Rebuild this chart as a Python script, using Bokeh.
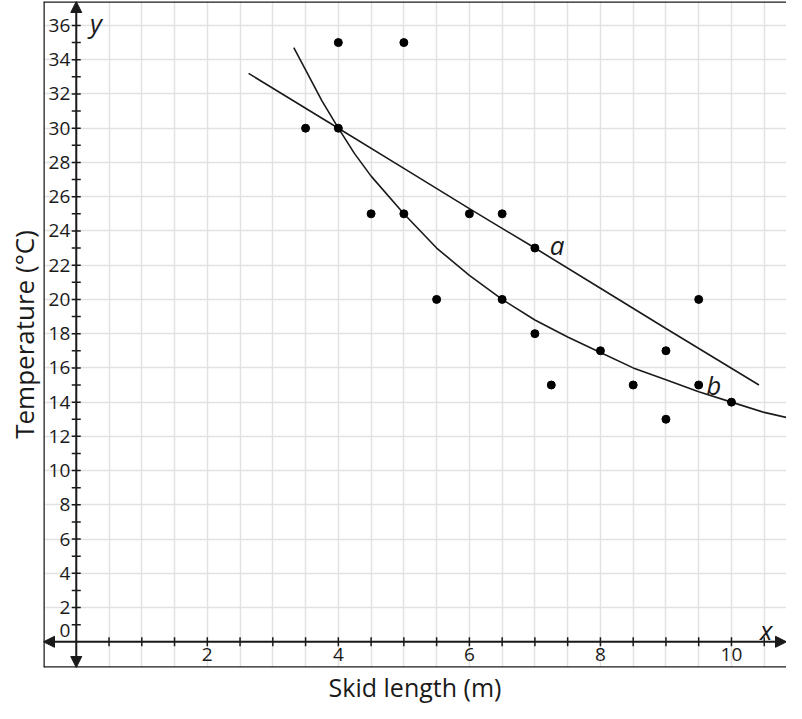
from bokeh.plotting import figure
from bokeh.models import (Range1d, SingleIntervalTicker, Arrow, NormalHead, Span,
                          Title, Label)
from bokeh.embed import file_html
from bokeh.resources import INLINE
from bokeh.core.properties import value

# ---- data ----
skid_length = [3.5, 4, 4, 4.5, 5, 5, 5.5, 6, 6.5, 6.5, 7, 7, 7.25, 8, 8.5, 9, 9, 9.5, 9.5, 10]
temperature = [30, 35, 30, 25, 35, 25, 20, 25, 25, 20, 23, 18, 15, 17, 15, 17, 13, 20, 15, 14]

curve_a_x = [2.63, 4, 5, 6, 7, 8, 9, 10.42]
curve_a_y = [33.2, 30, 27.65, 25.3, 23, 20.65, 18.3, 15.0]

curve_b_x = [3.32, 3.5, 3.75, 4, 4.25, 4.5, 5, 5.5, 6, 6.5, 7, 7.5, 8, 8.5, 9, 9.5, 10, 10.5, 10.84]
curve_b_y = [34.7, 33.4, 31.6, 30, 28.5, 27.2, 25, 23.0, 21.4, 20, 18.8, 17.8, 16.9, 16.0, 15.3, 14.6, 14.0, 13.4, 13.1]

x_minor_ticks = [0.5, 1, 1.5, 2, 2.5, 3, 3.5, 4, 4.5, 5, 5.5, 6, 6.5, 7, 7.5, 8, 8.5, 9, 9.5, 10, 10.5]
y_minor_ticks = [1, 2, 3, 4, 5, 6, 7, 8, 9, 10, 11, 12, 13, 14, 15, 16, 17, 18, 19, 20,
                 21, 22, 23, 24, 25, 26, 27, 28, 29, 30, 31, 32, 33, 34, 35, 36]
x_tick_labels = [2, 4, 6, 8, 10]
y_tick_labels = [2, 4, 6, 8, 10, 12, 14, 16, 18, 20, 22, 24, 26, 28, 30, 32, 34, 36]

X_MIN, X_MAX = -0.5, 10.84
Y_MIN, Y_MAX = -1.5, 37.4

FONT = "Open Sans"
INK = "#1a1a1a"

p = figure(width=786, height=703, output_backend="svg", toolbar_location=None,
           x_range=Range1d(X_MIN, X_MAX), y_range=Range1d(Y_MIN, Y_MAX),
           min_border_left=43, min_border_right=0, min_border_top=1, min_border_bottom=24)
p.xaxis.visible = False
p.yaxis.visible = False
p.outline_line_color = None

# grid
p.xgrid[0].ticker = SingleIntervalTicker(interval=0.5)
p.ygrid[0].ticker = SingleIntervalTicker(interval=2)
for g in (p.xgrid[0], p.ygrid[0]):
    g.grid_line_color = "#e2e2e2"
    g.grid_line_width = 1.5

# frame border (left, top, bottom)
p.add_layout(Span(location=X_MIN, dimension="height", line_color=INK, line_width=2.5))
p.add_layout(Span(location=Y_MIN, dimension="width", line_color=INK, line_width=2.5))
p.add_layout(Span(location=Y_MAX, dimension="width", line_color=INK, line_width=2.5))

# axes through origin with arrowheads
head = dict(size=11, fill_color=INK, line_color=INK, line_width=1)
p.add_layout(Arrow(start=NormalHead(**head), end=NormalHead(**head),
                   x_start=X_MIN, y_start=0, x_end=X_MAX, y_end=0,
                   line_color=INK, line_width=2))
p.add_layout(Arrow(start=NormalHead(**head), end=NormalHead(**head),
                   x_start=0, y_start=Y_MIN, x_end=0, y_end=Y_MAX,
                   line_color=INK, line_width=2))

# ticks
p.scatter(x=x_minor_ticks, y=[0] * len(x_minor_ticks), marker="dash", angle=1.5708,
          size=9, line_color=INK, line_width=1.5)
p.scatter(x=[0] * len(y_minor_ticks), y=y_minor_ticks, marker="dash",
          size=9, line_color=INK, line_width=1.5)

# tick labels
p.text(x=x_tick_labels, y=[0] * len(x_tick_labels), text=[str(v) for v in x_tick_labels],
       text_align="center", text_baseline="top", y_offset=6,
       text_font=value(FONT), text_font_size="19px", text_color=INK)
p.text(x=[0] * len(y_tick_labels), y=y_tick_labels, text=[str(v) for v in y_tick_labels],
       text_align="right", text_baseline="middle", x_offset=-6,
       text_font=value(FONT), text_font_size="19px", text_color=INK)
p.text(x=[0], y=[0], text=["0"], text_align="right", text_baseline="middle",
       x_offset=-6, y_offset=-11, text_font=value(FONT), text_font_size="19px", text_color=INK)

# curves
p.line(curve_a_x, curve_a_y, line_color=INK, line_width=1.6)
p.line(curve_b_x, curve_b_y, line_color=INK, line_width=1.6)

# data points
p.scatter(skid_length, temperature, size=8, fill_color="black", line_color="black")

# italic labels
for txt, lx, ly in [("a", 7.34, 23.17), ("b", 9.73, 14.99), ("x", 10.53, 0.7), ("y", 0.30, 36.14)]:
    p.add_layout(Label(x=lx, y=ly, text=txt, text_align="center", text_baseline="alphabetic",
                       text_font=FONT, text_font_style="italic", text_font_size="26px",
                       text_color=INK))

# axis titles
p.add_layout(Title(text="Skid length (m)", align="center", text_font=FONT,
                   text_font_size="25px", text_font_style="normal", text_color=INK,
                   text_line_height=0.9, standoff=0, offset=0), "below")
p.add_layout(Title(text="Temperature (°C)", align="center", text_font=FONT,
                   text_font_size="26px", text_font_style="normal", text_color=INK,
                   standoff=4), "left")

open("out.html", "w").write(file_html(p, INLINE))
